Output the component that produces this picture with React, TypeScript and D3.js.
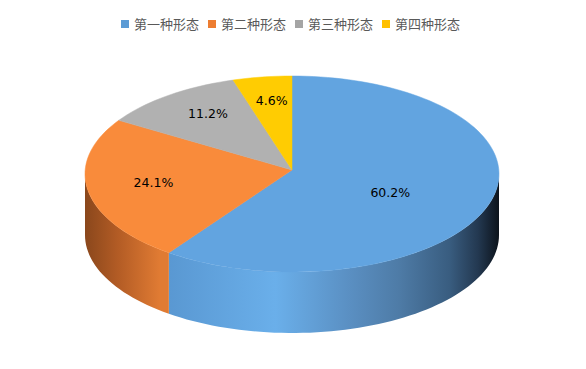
import * as d3 from 'd3';
import React from 'react';

const categories = ['第一种形态', '第二种形态', '第三种形态', '第四种形态'];
const values = [60.2, 24.1, 11.2, 4.6];
const labels = ['60.2%', '24.1%', '11.2%', '4.6%'];

const legendColors = ['#5B9BD5', '#ED7D31', '#A5A5A5', '#FFC000'];
const topColors = ['#62A4E0', '#F98B3B', '#B1B1B1', '#FFCC02'];

const width = 586;
const height = 369;
const cx = 292;
const cy = 174;
const rx = 207;
const ry = 98;
const depth = 61;
const apexY = 170; // slight perspective: slices meet a bit above ellipse centre

// point on the ellipse, angle clockwise from 12 o'clock
const pt = (a: number, dy = 0): [number, number] => [cx + rx * Math.sin(a), cy - ry * Math.cos(a) + dy];

const sampled = (s: number, e: number) => {
	const n = Math.max(2, Math.ceil(((e - s) / (2 * Math.PI)) * 180));
	return d3.range(0, n + 1).map(i => s + ((e - s) * i) / n);
};

const sidePath = (a0: number, a1: number) => {
	const s = Math.max(a0, Math.PI / 2);
	const e = Math.min(a1, (3 * Math.PI) / 2);
	if (e <= s) return null;
	const steps = sampled(s, e);
	const upper = steps.map(a => pt(a));
	const lower = steps.slice().reverse().map(a => pt(a, depth));
	return d3.line()([...upper, ...lower]) + 'Z';
};

const topPath = (a0: number, a1: number) => {
	const pts = sampled(a0, a1).map(a => pt(a));
	return d3.line()([[cx, apexY], ...pts]) + 'Z';
};

const App = () => {
	const pie = d3.pie<number>().sort(null).value(d => d)(values);

	const itemW = 87;
	const legendX = width / 2 - (itemW * categories.length) / 2 + 2;

	return (
		<svg width={width} height={height} style={{ display: 'block', position: 'absolute', left: 0, top: 0 }}>
			<defs>
				<linearGradient id="side0" gradientUnits="userSpaceOnUse" x1={cx - rx} x2={cx + rx} y1={0} y2={0}>
					<stop offset="0.18" stopColor="#5896d0" />
					<stop offset="0.46" stopColor="#6aafea" />
					<stop offset="0.64" stopColor="#5a8fc2" />
					<stop offset="0.76" stopColor="#4e7ba6" />
					<stop offset="0.88" stopColor="#395d80" />
					<stop offset="0.95" stopColor="#233850" />
					<stop offset="1" stopColor="#0c131b" />
				</linearGradient>
				<linearGradient id="side1" gradientUnits="userSpaceOnUse" x1={cx - rx} x2={cx + rx} y1={0} y2={0}>
					<stop offset="0" stopColor="#8a471c" />
					<stop offset="0.08" stopColor="#b35c25" />
					<stop offset="0.18" stopColor="#e07b33" />
				</linearGradient>
				<linearGradient id="side2" x1="0" x2="1">
					<stop offset="0" stopColor="#888" />
				</linearGradient>
				<linearGradient id="side3" x1="0" x2="1">
					<stop offset="0" stopColor="#d9a800" />
				</linearGradient>
			</defs>
			<rect width={width} height={height} fill="#fff" />

			{/* legend */}
			{categories.map((c, i) => (
				<g key={c} transform={`translate(${legendX + i * itemW},0)`}>
					<rect x={0} y={20} width={8} height={8} fill={legendColors[i]} />
					<text
						x={13}
						y={24}
						dy="0.36em"
						fontSize={13}
						fill="#595959"
						fontFamily="'Noto Sans CJK SC', sans-serif"
					>
						{c}
					</text>
				</g>
			))}

			{/* sides */}
			{pie.map((p, i) => {
				const d = sidePath(p.startAngle, p.endAngle);
				return d ? <path key={i} d={d} fill={`url(#side${i})`} /> : null;
			})}

			{/* top face */}
			{pie.map((p, i) => (
				<path
					key={i}
					d={topPath(p.startAngle, p.endAngle)}
					fill={topColors[i]}
					stroke={topColors[i]}
					strokeWidth={0.5}
				/>
			))}

			{/* data labels */}
			{pie.map((p, i) => {
				const mid = (p.startAngle + p.endAngle) / 2;
				const fx = p.data > 50 ? 0.5 : 0.68;
				const fy = 0.72;
				const x = cx + rx * fx * Math.sin(mid);
				const y = apexY - ry * fy * Math.cos(mid);
				return (
					<text
						key={i}
						x={x}
						y={y}
						dy="0.36em"
						textAnchor="middle"
						fontSize={12.5}
						fill="#000"
						fontFamily="'DejaVu Sans', sans-serif"
					>
						{labels[i]}
					</text>
				);
			})}
		</svg>
	);
};

export default App;
